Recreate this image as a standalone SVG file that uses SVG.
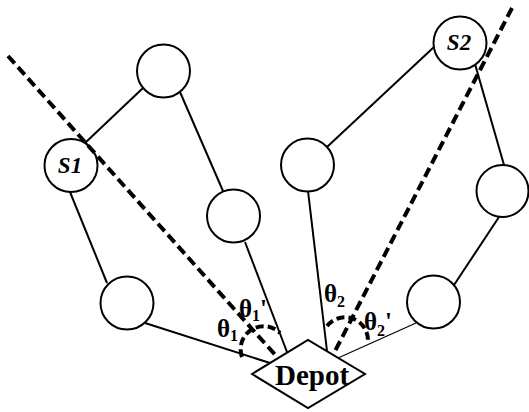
<svg xmlns="http://www.w3.org/2000/svg" width="529" height="412" viewBox="0 0 529 412">
  <style>
    .node { fill: #fff; stroke: #000; stroke-width: 2; }
    .edge { stroke: #000; stroke-width: 2; fill: none; }
    .thin { stroke: #000; stroke-width: 1.2; fill: none; }
    .split { stroke: #000; stroke-width: 4; stroke-dasharray: 10 5; fill: none; }
    .angle { stroke: #000; stroke-width: 4; stroke-dasharray: 8 4; fill: none; }
    text { fill: #000; font-weight: bold; font-family: "Liberation Serif", "Times New Roman", serif; }
    .sid { font-style: italic; font-size: 23px; }
    .sub { font-size: 16px; }
  </style>

  <!-- route edges -->
  <g id="connectors">
    <line class="edge" x1="85" y1="143" x2="143" y2="88"/>
    <line class="edge" x1="180" y1="92" x2="223" y2="191"/>
    <line class="edge" x1="70" y1="192" x2="107" y2="283"/>
    <line class="edge" x1="145" y1="323" x2="270" y2="363"/>
    <line class="edge" x1="245" y1="242" x2="287" y2="352"/>
    <line class="edge" x1="308" y1="191" x2="327" y2="351"/>
    <line class="edge" x1="327" y1="147" x2="434" y2="47"/>
    <line class="edge" x1="475" y1="64" x2="504" y2="165"/>
    <line class="edge" x1="499" y1="217" x2="454" y2="285"/>
    <line class="thin" x1="416" y1="323" x2="338" y2="358"/>
  </g>

  <!-- customers -->
  <g id="n-top-left"><circle class="node" cx="163.5" cy="71" r="26.5"/></g>
  <g id="n-s1">
    <circle class="node" cx="71" cy="165.5" r="26.5"/>
    <text class="sid" x="70" y="173" text-anchor="middle">S1</text>
  </g>
  <g id="n-bottom-left"><circle class="node" cx="127" cy="303" r="26.5"/></g>
  <g id="n-mid-left"><circle class="node" cx="233.5" cy="216" r="26.5"/></g>
  <g id="n-mid"><circle class="node" cx="307.5" cy="165" r="26.5"/></g>
  <g id="n-s2">
    <circle class="node" cx="460" cy="43" r="26.5"/>
    <text class="sid" x="459" y="50" text-anchor="middle">S2</text>
  </g>
  <g id="n-right"><circle class="node" cx="502.5" cy="191" r="26"/></g>
  <g id="n-bottom-right"><circle class="node" cx="433.5" cy="302" r="26.5"/></g>

  <!-- depot -->
  <g id="n-depot">
    <polygon class="node" points="252,374 308,340 365,374 308,408"/>
    <text x="312" y="385" font-size="29" text-anchor="middle">Depot</text>
  </g>

  <!-- sweep boundaries and angles -->
  <g id="sweep">
    <line class="split" x1="8" y1="56" x2="278" y2="358"/>
    <line class="split" x1="512" y1="8" x2="333" y2="355"/>
    <path class="angle" d="M242,357 A23,23 0 0 1 280,333"/>
    <path class="angle" d="M327,326 A23,23 0 0 1 368,341"/>
  </g>

  <g id="angle-labels" font-size="25">
    <text x="239" y="317">θ<tspan class="sub" dy="4">1</tspan><tspan dy="-4">'</tspan></text>
    <text x="217" y="337">θ<tspan class="sub" dy="4">1</tspan></text>
    <text x="324" y="302">θ<tspan class="sub" dy="5">2</tspan></text>
    <text x="364" y="330">θ<tspan class="sub" dy="6">2</tspan><tspan dy="-6">'</tspan></text>
  </g>
</svg>
